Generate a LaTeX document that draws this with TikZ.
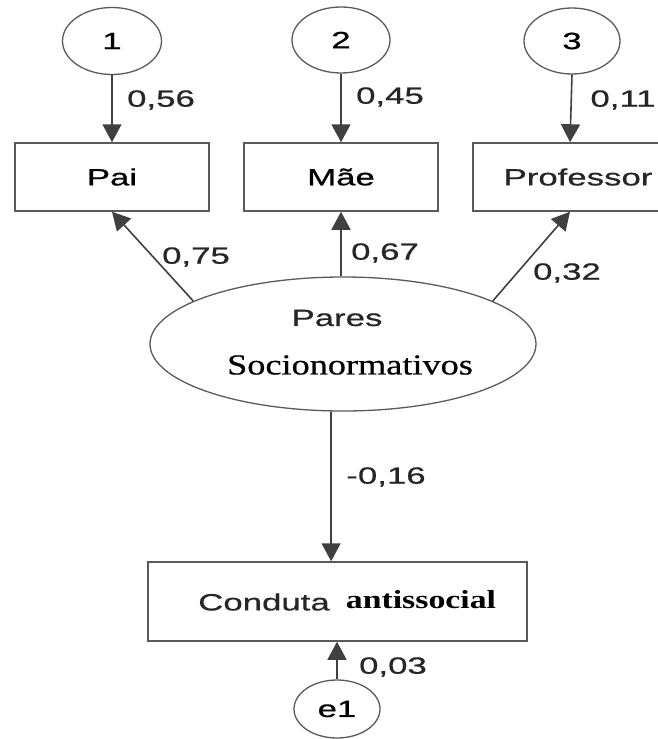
\documentclass[tikz,border=0pt]{standalone}
\usepackage{fontspec}
\usetikzlibrary{shapes.geometric,arrows.meta}
\newfontfamily\sansx[FakeStretch=1.48,FakeBold=0.7]{Liberation Sans}
\newfontfamily\serifx[FakeStretch=1.25,FakeBold=0.6]{Liberation Serif}
\newfontfamily\serifbx[FakeStretch=1.3]{Liberation Serif Bold}
\definecolor{linec}{HTML}{404040}
\definecolor{boxc}{HTML}{5A5A5A}
\tikzset{
  lab/.style={font=\sansx\fontsize{23.5}{26}\selectfont, inner sep=0pt, text=black!85},
  varbox/.style={draw=boxc, line width=1.5pt, minimum width=194pt, minimum height=68pt, inner sep=0pt, font=\sansx\fontsize{23.5}{26}\selectfont},
  errc/.style={ellipse, draw=boxc, line width=1.3pt, inner sep=0pt, font=\sansx\fontsize{23.5}{26}\selectfont},
  arr/.style={draw=linec, line width=1.6pt, -{Triangle[length=18pt,width=19pt]}}
}
\begin{document}
\begin{tikzpicture}[x=1pt,y=-1pt]
\fill[white] (0,0) rectangle (658,739);
\useasboundingbox (0,0) rectangle (658,739);
% error terms
\node[errc, minimum width=99pt, minimum height=67pt] (c1) at (112,41) {1};
\node[errc, minimum width=98pt, minimum height=66pt] (c2) at (341,40) {2};
\node[errc, minimum width=96pt, minimum height=66pt] (c3) at (572,41) {3};
% observed variables
\node[varbox] (pai) at (112,177) {Pai};
\node[varbox] (mae) at (341,177) {Mãe};
\node[varbox] (prof) at (570,177) {};
\node[lab] (proftext) at (578,177) {Professor};
% latent
\node[errc, minimum width=386pt, minimum height=134pt] (pares) at (343,344) {};
\node[lab] (parestext) at (337,318) {Pares};
\node[inner sep=0pt, font=\serifx\fontsize{29}{30}\selectfont] (socio) at (350,365) {Socionormativos};
% outcome
\node[draw=boxc, line width=1.5pt, minimum width=379pt, minimum height=79pt, inner sep=0pt] (conduta) at (337.5,601.5) {};
\node[lab] (condtext) at (264,602) {Conduta};
\node[inner sep=0pt, font=\serifbx\fontsize{26}{28}\selectfont] (anti) at (421,600) {antissocial};
\node[errc, minimum width=86pt, minimum height=58pt] (e1) at (337,709) {e1};
% arrows
\draw[arr] (c1.south) -- (pai.north);
\draw[arr] (c2.south) -- (mae.north);
\draw[arr] (c3.south) -- (prof.north);
\draw[arr] (pares.164) -- (pai.south);
\draw[arr] (mae.south |- pares.north) -- (mae.south);
\draw[arr] (pares.16) -- (prof.south);
\draw[arr] (pares.260) -- (pares.260 |- conduta.north);
\draw[arr] (e1.north) -- (e1.north |- conduta.south);
% labels
\node[lab] (l1) at (161,100) {0,56};
\node[lab] (l2) at (390,97) {0,45};
\node[lab] (l3) at (623,100) {0,11};
\node[lab] (l4) at (196,257) {0,75};
\node[lab] (l5) at (385,253) {0,67};
\node[lab] (l6) at (567,273) {0,32};
\node[lab] (l7) at (386,477) {-0,16};
\node[lab] (l8) at (393,667) {0,03};
\end{tikzpicture}
\end{document}
